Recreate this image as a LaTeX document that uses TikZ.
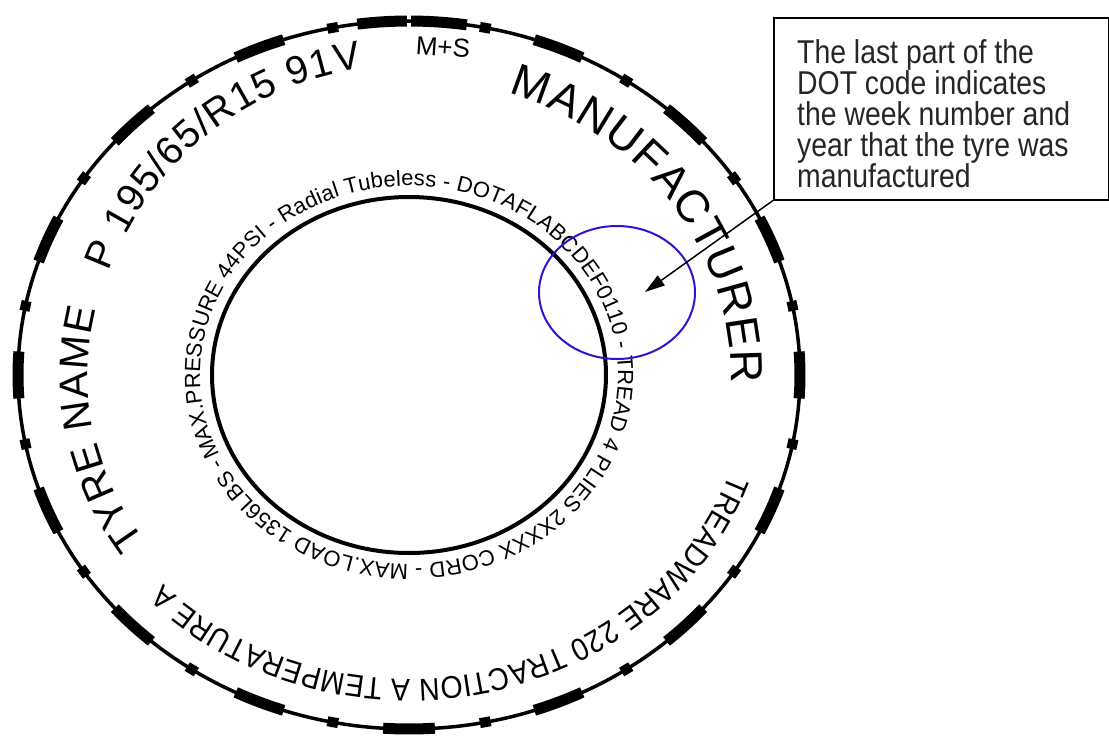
\documentclass[tikz,border=0pt]{standalone}
\usepackage{fontspec}
\setmainfont{Liberation Sans}
\newfontfamily\tyrefont{Liberation Sans}
\newfontfamily\narrowfont[FakeStretch=0.9]{Liberation Sans}
\newfontfamily\notefont[FakeStretch=0.86]{Liberation Sans}
\usetikzlibrary{decorations.text,arrows.meta}
\definecolor{hl}{RGB}{45,20,210}
\begin{document}
\begin{tikzpicture}[x=1pt,y=1pt,
  outline/.style={line width=3.5pt,black},
  treadlong/.style={line width=11pt,black},
  treadshort/.style={line width=10pt,black},
  ringtext/.style={decorate,decoration={text along path,text align={fit to path},text={#1}}},
  callout/.style={draw=black,line width=1.5pt,inner sep=0pt},
  pointer/.style={line width=1.5pt,-{Triangle[length=20pt,width=12pt]}}]
\useasboundingbox (0,0) rectangle (1109,-736);
\fill[white] (0,0) rectangle (1109,-736);
\begin{scope}[shift={(409,-375)}]
  % outer wall
  \draw[outline] (0,0) ellipse [x radius=391, y radius=354];
  \foreach \k in {1,...,15}{
    \draw[treadlong] ({90+22.5*\k+3.8}:391 and 354) arc[start angle={90+22.5*\k+3.8}, end angle={90+22.5*\k-3.8}, x radius=391, y radius=354];
  }
  \draw[treadlong] (97.6:391 and 354) arc[start angle=97.6, end angle=90.3, x radius=391, y radius=354];
  \draw[treadlong] (89.7:391 and 354) arc[start angle=89.7, end angle=81.5, x radius=391, y radius=354];
  \foreach \k in {0,...,15}{
    \draw[treadshort] ({101.25+22.5*\k+0.8}:391 and 354) arc[start angle={101.25+22.5*\k+0.8}, end angle={101.25+22.5*\k-0.8}, x radius=391, y radius=354];
  }
  % inner rim
  \draw[line width=4pt] (0,0) ellipse [x radius=197, y radius=178];
  % outer texts
  \path[ringtext={|\fontsize{39.5}{40}\tyrefont|P 195/65/R15 91V}] (160.5:318 and 310) arc[start angle=160.5, end angle=98.5, x radius=318, y radius=310];
  \path[ringtext={|\fontsize{45.5}{46}\tyrefont|MANUFACTURER}] (72:322 and 296) arc[start angle=72, end angle=-1.5, x radius=322, y radius=296];
  \path[ringtext={|\fontsize{40.5}{41}\tyrefont|TYRE NAME}] (214.5:321 and 292) arc[start angle=214.5, end angle=167, x radius=321, y radius=292];
  \path[ringtext={|\fontsize{31.5}{32}\narrowfont|TREADWARE 220 TRACTION A TEMPERATURE A}] (-19:339 and 304) arc[start angle=-19, end angle=-136.5, x radius=339, y radius=304];
  % inner text
  \path[ringtext={|\fontsize{22}{22}\tyrefont|MAX.PRESSURE 44PSI - Radial Tubeless - DOTAFLABCDEF0110 - TREAD 4 PLIES 2XXXX CORD - MAX.LOAD 1356LBS -}] (205:209 and 189) arc[start angle=205, end angle=-154, x radius=209, y radius=189];
\end{scope}
\node[font=\fontsize{26}{26}\tyrefont, rotate=-4, inner sep=0pt] (ms) at (443,-47) {M+S};
% highlight
\draw[hl, line width=2pt] (617,-292.5) ellipse [x radius=78, y radius=66.5];
% callout
\node[callout, anchor=north west, minimum width=335pt, minimum height=182pt] (box) at (773,-17) {};
\node[anchor=north west, inner sep=0pt, align=left, font=\fontsize{33}{31}\notefont, text=black!85] (note) at (797,-39.5)
  {The last part of the\\DOT code indicates\\the week number and\\year that the tyre was\\manufactured};
\coordinate (tip) at (645,-292);
\draw[pointer] (box.south west) -- (tip);
\end{tikzpicture}
\end{document}
